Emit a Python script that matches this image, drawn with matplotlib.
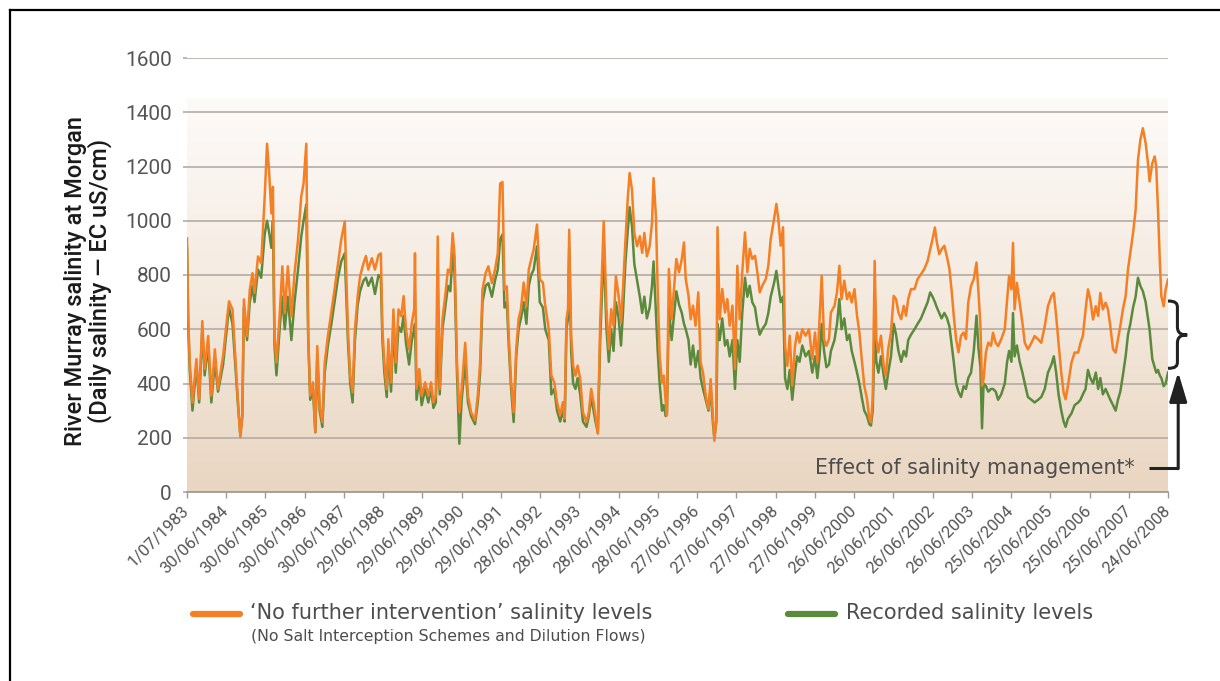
import numpy as np
import matplotlib
matplotlib.use('Agg')
import matplotlib.pyplot as plt
from matplotlib.path import Path
from matplotlib.patches import PathPatch
from matplotlib.lines import Line2D
from matplotlib.colors import LinearSegmentedColormap

plt.rcParams['font.family'] = ['Roboto', 'DejaVu Sans']

# ---- data (decimal years, EC uS/cm)
years = [
    1983.50, 1983.53, 1983.57, 1983.64, 1983.74, 1983.81, 1983.89, 1983.95, 1984.04, 1984.12,
    1984.21, 1984.29, 1984.42, 1984.50, 1984.57, 1984.66, 1984.74, 1984.80, 1984.86, 1984.91,
    1984.95, 1985.03, 1985.10, 1985.17, 1985.22, 1985.31, 1985.39, 1985.48, 1985.54, 1985.59,
    1985.65, 1985.69, 1985.73, 1985.78, 1985.86, 1985.93, 1985.99, 1986.07, 1986.16, 1986.24,
    1986.33, 1986.41, 1986.47, 1986.54, 1986.59, 1986.64, 1986.71, 1986.77, 1986.82, 1986.88,
    1986.95, 1987.01, 1987.09, 1987.18, 1987.26, 1987.35, 1987.43, 1987.52,
    1987.60, 1987.66, 1987.72, 1987.78, 1987.85, 1987.91, 1988.00, 1988.06, 1988.12, 1988.21,
    1988.29, 1988.38, 1988.44, 1988.48, 1988.53, 1988.59, 1988.63, 1988.70, 1988.76, 1988.82,
    1988.89, 1988.96, 1989.02, 1989.08, 1989.16, 1989.23, 1989.29, 1989.31, 1989.35, 1989.42,
    1989.48, 1989.57, 1989.65, 1989.72, 1989.78, 1989.84, 1989.89, 1989.94, 1990.01, 1990.08,
    1990.15, 1990.21, 1990.27, 1990.32, 1990.38, 1990.44, 1990.50, 1990.59, 1990.66, 1990.74,
    1990.84, 1990.91, 1990.97, 1991.03, 1991.11, 1991.18, 1991.27, 1991.35, 1991.42, 1991.48,
    1991.54, 1991.59, 1991.65,
    1991.70, 1991.76, 1991.825, 1991.89, 1991.95, 1992.01, 1992.08, 1992.15, 1992.21, 1992.27,
    1992.335, 1992.42, 1992.49, 1992.57, 1992.63, 1992.72, 1992.785, 1992.86, 1992.93, 1993.01,
    1993.08, 1993.125, 1993.17, 1993.21, 1993.24, 1993.29, 1993.34, 1993.40, 1993.455, 1993.52,
    1993.59, 1993.68, 1993.74, 1993.80, 1993.86, 1993.91, 1993.97, 1994.03, 1994.12, 1994.19,
    1994.25, 1994.31, 1994.37, 1994.43, 1994.50, 1994.56, 1994.61, 1994.67, 1994.73, 1994.78,
    1994.84, 1994.90, 1994.97, 1995.04, 1995.10, 1995.155, 1995.22, 1995.29, 1995.35, 1995.39,
    1995.45, 1995.495, 1995.545, 1995.605, 1995.65, 1995.70, 1995.73,
    1995.78, 1995.85, 1995.91, 1995.97, 1996.04, 1996.11, 1996.165, 1996.21, 1996.28, 1996.335,
    1996.395, 1996.46, 1996.53, 1996.59, 1996.65, 1996.72, 1996.79, 1996.845, 1996.905, 1996.94,
    1996.99, 1997.02, 1997.075, 1997.14, 1997.21, 1997.27, 1997.33, 1997.40, 1997.465, 1997.525,
    1997.585, 1997.65, 1997.72, 1997.78, 1997.84, 1997.905, 1997.975, 1998.035, 1998.095, 1998.16,
    1998.25, 1998.315, 1998.375, 1998.46, 1998.52, 1998.57, 1998.63, 1998.69, 1998.74, 1998.80,
    1998.86, 1998.925, 1998.995, 1999.05, 1999.11, 1999.18, 1999.265, 1999.35, 1999.435, 1999.505,
    1999.565, 1999.62, 1999.675, 1999.735, 1999.795, 1999.86,
    1999.91, 2000.00, 2000.065, 2000.125, 2000.18, 2000.25, 2000.32, 2000.38, 2000.44, 2000.51,
    2000.575, 2000.635, 2000.695, 2000.76, 2000.83, 2000.89, 2000.93, 2000.975, 2001.025, 2001.067,
    2001.12, 2001.185, 2001.255, 2001.31, 2001.37, 2001.44, 2001.51, 2001.57, 2001.63, 2001.70,
    2001.765, 2001.825, 2001.88, 2001.95, 2002.04, 2002.12, 2002.205, 2002.29, 2002.375, 2002.44,
    2002.50, 2002.56, 2002.61, 2002.67, 2002.73, 2002.80, 2002.87, 2002.93, 2002.99, 2003.04,
    2003.10, 2003.16, 2003.225, 2003.29, 2003.35, 2003.41, 2003.48, 2003.55, 2003.62, 2003.67,
    2003.72, 2003.76, 2003.80, 2003.86, 2003.92, 2003.99,
    2004.04, 2004.11, 2004.17, 2004.25, 2004.34, 2004.40, 2004.45, 2004.51, 2004.55, 2004.59,
    2004.65, 2004.72, 2004.79, 2004.85, 2004.93, 2005.02, 2005.10, 2005.19, 2005.27, 2005.36,
    2005.44, 2005.53, 2005.59, 2005.65, 2005.71, 2005.78, 2005.84, 2005.89, 2005.95, 2006.04,
    2006.12, 2006.21, 2006.27, 2006.33, 2006.40, 2006.46, 2006.52, 2006.59, 2006.66, 2006.72,
    2006.775, 2006.84, 2006.91, 2006.97, 2007.03, 2007.10, 2007.165, 2007.225, 2007.285, 2007.35,
    2007.42, 2007.48, 2007.54, 2007.61, 2007.675, 2007.735, 2007.795, 2007.86, 2007.93, 2007.99,
    2008.03, 2008.10, 2008.16, 2008.20, 2008.245, 2008.29, 2008.33, 2008.39, 2008.44, 2008.50,
]

# 'No further intervention' salinity (orange)
no_intervention = [
    935, 648, 477, 330, 490, 343, 630, 453, 575, 355,
    526, 380, 502, 612, 703, 673, 477, 330, 202, 282,
    710, 575, 746, 807, 734, 868, 844, 1088, 1284, 1186,
    1027, 1125, 575, 477, 648, 832, 660, 832, 648, 807,
    930, 1088, 1137, 1284, 575, 355, 404, 221, 538, 318,
    257, 477, 575, 667, 746, 844, 930, 997,
    600, 428, 367, 600, 722, 795, 844, 870, 820, 862,
    820, 874, 880, 600, 477, 380, 563, 404, 673, 477,
    673, 648, 722, 600, 526, 624, 673, 880, 380, 453,
    355, 404, 355, 404, 330, 355, 942, 380, 636, 722,
    820, 807, 954, 868, 477, 294, 380, 550, 355, 294,
    264, 355, 477, 746, 807, 832, 770, 820, 880, 1137,
    1143, 746, 758,
    576, 404, 294, 527, 637, 674, 772, 686, 820, 857,
    894, 986, 784, 772, 686, 600, 429, 404, 331, 282,
    331, 270, 637, 674, 967, 576, 466, 429, 466, 417,
    294, 258, 294, 380, 331, 282, 215, 625, 998, 674,
    527, 674, 612, 796, 723, 625, 747, 918, 1078, 1176,
    1114, 955, 906, 943, 882, 955, 869, 906, 992, 1157,
    1016, 747, 502, 404, 429, 331, 282,
    822, 637, 748, 859, 810, 859, 920, 785, 724, 637,
    687, 613, 736, 478, 441, 355, 306, 416, 269, 189,
    269, 976, 637, 748, 662, 711, 613, 687, 453, 834,
    637, 810, 957, 810, 896, 859, 871, 810, 736, 760,
    785, 834, 932, 1006, 1062, 1006, 908, 976, 539, 465,
    576, 392, 539, 588, 551, 600, 576, 600, 490, 588,
    478, 637, 797, 564, 539, 564,
    662, 686, 736, 834, 711, 779, 711, 736, 699, 748,
    650, 588, 490, 392, 342, 269, 257, 342, 852, 564,
    515, 576, 465, 429, 527, 588, 723, 711, 662, 637,
    686, 650, 711, 748, 748, 785, 803, 822, 852, 895,
    932, 975, 920, 877, 895, 908, 865, 822, 736, 650,
    564, 515, 576, 588, 564, 699, 760, 785, 846, 736,
    613, 392, 416, 515, 551, 539,
    587, 550, 538, 563, 600, 710, 796, 747, 918, 673,
    771, 698, 624, 550, 526, 550, 575, 563, 550, 612,
    685, 722, 734, 649, 550, 440, 367, 342, 391, 477,
    514, 514, 550, 575, 673, 747, 710, 636, 685, 649,
    734, 673, 698, 673, 612, 526, 514, 563, 612, 673,
    722, 820, 881, 955, 1041, 1224, 1298, 1341, 1286, 1212,
    1145, 1212, 1237, 1200, 1041, 857, 722, 685, 747, 783,
]

# recorded salinity (green)
recorded = [
    900, 620, 450, 300, 470, 330, 600, 430, 540, 330,
    480, 370, 470, 580, 680, 620, 450, 320, 210, 280,
    680, 560, 700, 760, 700, 820, 790, 950, 1000, 960,
    900, 1000, 540, 430, 600, 720, 600, 720, 560, 700,
    820, 940, 1000, 1060, 560, 340, 380, 220, 500, 300,
    240, 440, 540, 620, 700, 790, 850, 880,
    560, 400, 330, 560, 690, 740, 780, 790, 760, 790,
    730, 800, 790, 560, 440, 350, 520, 370, 620, 440,
    610, 590, 650, 550, 470, 560, 600, 620, 340, 420,
    320, 380, 330, 380, 310, 330, 600, 360, 600, 680,
    760, 740, 880, 800, 440, 178, 340, 480, 330, 280,
    250, 330, 440, 700, 760, 770, 720, 780, 820, 930,
    950, 680, 700,
    540, 380, 258, 500, 600, 640, 700, 620, 760, 800,
    820, 906, 700, 680, 600, 560, 360, 380, 300, 260,
    300, 260, 600, 640, 900, 520, 400, 380, 420, 360,
    260, 240, 280, 350, 300, 260, 220, 560, 900, 600,
    480, 600, 520, 700, 640, 540, 660, 840, 960, 1050,
    980, 840, 780, 720, 660, 720, 640, 680, 760, 850,
    660, 520, 400, 300, 320, 280, 290,
    680, 560, 650, 740, 690, 660, 620, 600, 560, 470,
    540, 460, 520, 420, 380, 340, 300, 380, 250, 200,
    260, 620, 560, 640, 540, 560, 500, 560, 380, 560,
    480, 660, 790, 720, 760, 700, 680, 620, 580, 600,
    620, 660, 720, 770, 815, 760, 700, 720, 420, 380,
    450, 340, 440, 500, 480, 540, 500, 520, 440, 500,
    420, 500, 620, 520, 460, 470,
    520, 560, 620, 711, 600, 640, 560, 580, 520, 480,
    440, 400, 350, 300, 280, 250, 245, 300, 588, 480,
    440, 500, 430, 380, 440, 500, 620, 580, 520, 480,
    520, 500, 560, 580, 600, 620, 640, 670, 700, 736,
    720, 700, 680, 660, 640, 660, 640, 610, 540, 480,
    400, 370, 350, 390, 380, 420, 440, 520, 650, 530,
    460, 235, 400, 390, 370, 380,
    380, 370, 340, 360, 400, 480, 520, 480, 660, 500,
    540, 480, 440, 400, 350, 340, 330, 340, 350, 380,
    440, 470, 500, 440, 360, 300, 260, 240, 270, 290,
    320, 330, 340, 360, 380, 450, 420, 400, 440, 380,
    420, 360, 380, 360, 340, 320, 300, 340, 370, 430,
    500, 580, 620, 680, 720, 790, 760, 740, 700, 640,
    600, 490, 460, 440, 450, 430, 420, 390, 400, 440,
]

tick_labels = [
    '1/07/1983', '30/06/1984', '30/06/1985', '30/06/1986', '30/06/1987',
    '29/06/1988', '29/06/1989', '29/06/1990', '29/06/1991', '28/06/1992',
    '28/06/1993', '28/06/1994', '28/06/1995', '27/06/1996', '27/06/1997',
    '27/06/1998', '27/06/1999', '26/06/2000', '26/06/2001', '26/06/2002',
    '26/06/2003', '25/06/2004', '25/06/2005', '25/06/2006', '25/06/2007',
    '24/06/2008',
]
tick_pos = [1983.5 + i for i in range(len(tick_labels))]
y_ticks = [0, 200, 400, 600, 800, 1000, 1200, 1400, 1600]

assert len(years) == len(no_intervention) == len(recorded)

ORANGE = '#F47F24'
GREEN = '#5B8A3C'
GRID = '#B4ACA4'
TXT = '#4D4D4D'
WIDE = ['DejaVu Sans']

W, H = 1220, 681
fig = plt.figure(figsize=(W / 100, H / 100), dpi=100)
ax = fig.add_axes([187 / W, 1 - 492 / H, 981 / W, 434 / H])

# soft vertical gradient behind the plot
bg = LinearSegmentedColormap.from_list('bg', ['#E9D6C1', '#F4EADF', '#FDFBF9'])
ax.imshow(np.linspace(0, 1, 256).reshape(-1, 1), cmap=bg, origin='lower',
          extent=[1983.5, 2008.5, 0, 1450], aspect='auto', zorder=0)

ax.plot(years, recorded, color=GREEN, lw=1.8, zorder=3)
ax.plot(years, no_intervention, color=ORANGE, lw=1.8, zorder=4)

ax.set_xlim(1983.5, 2008.5)
ax.set_ylim(0, 1600)
ax.set_yticks(y_ticks)
ax.set_xticks(tick_pos)
ax.set_xticklabels(tick_labels, rotation=45, ha='right', va='center', rotation_mode='anchor')
ax.yaxis.grid(True, color=GRID, lw=1.2)
ax.set_axisbelow(True)
for s in ['top', 'right', 'left']:
    ax.spines[s].set_visible(False)
ax.spines['bottom'].set_color('#A39B93')
ax.spines['bottom'].set_linewidth(1.3)
ax.tick_params(axis='y', length=3, color=GRID, width=1.2, pad=8, labelsize=15, labelcolor='#555555')
ax.tick_params(axis='x', length=4, color='#A39B93', width=1, pad=8, labelsize=12, labelcolor='#555555')

fig.text(88 / W, 1 - 281 / H, 'River Murray salinity at Morgan\n(Daily salinity — EC uS/cm)',
         rotation=90, ha='center', va='center', fontsize=17, weight='medium',
         color='#1A1A1A', linespacing=1.02)

# annotation: brace + arrow
brace = Path([(2008.50, 704), (2008.70, 704), (2008.74, 695), (2008.74, 680),
              (2008.74, 610),
              (2008.74, 590), (2008.80, 579), (2008.99, 579),
              (2008.80, 579), (2008.74, 568), (2008.74, 548),
              (2008.74, 480),
              (2008.74, 465), (2008.70, 456), (2008.50, 456)],
             [Path.MOVETO, Path.CURVE4, Path.CURVE4, Path.CURVE4,
              Path.LINETO,
              Path.CURVE4, Path.CURVE4, Path.CURVE4,
              Path.CURVE4, Path.CURVE4, Path.CURVE4,
              Path.LINETO,
              Path.CURVE4, Path.CURVE4, Path.CURVE4])
ax.add_patch(PathPatch(brace, fill=False, lw=2.2, color='#222222', clip_on=False, zorder=5))
ax.plot([2008.02, 2008.76], [87, 87], color='#222222', lw=2.2, clip_on=False, zorder=5,
        solid_capstyle='butt')
ax.annotate('', xy=(2008.76, 442), xytext=(2008.76, 86),
            arrowprops=dict(arrowstyle='-|>,head_length=0.9,head_width=0.27',
                            color='#222222', lw=2.2, mutation_scale=20, shrinkA=0, shrinkB=0),
            annotation_clip=False, zorder=5)
ax.text(2007.66, 88, 'Effect of salinity management*', ha='right', va='center',
        fontsize=14.8, color=TXT, zorder=5, family=WIDE)

# legend
fig.add_artist(Line2D([193 / W, 240 / W], [1 - 614 / H] * 2, color=ORANGE, lw=4.5,
                      solid_capstyle='round'))
fig.add_artist(Line2D([788 / W, 835 / W], [1 - 614 / H] * 2, color=GREEN, lw=4.5,
                      solid_capstyle='round'))
fig.text(250 / W, 1 - 613 / H, '\u2018No further intervention\u2019 salinity levels',
         ha='left', va='center', fontsize=15, color=TXT, family=WIDE)
fig.text(251 / W, 1 - 637 / H, '(No Salt Interception Schemes and Dilution Flows)',
         ha='left', va='center', fontsize=11.3, color=TXT, family=WIDE)
fig.text(846 / W, 1 - 613 / H, 'Recorded salinity levels',
         ha='left', va='center', fontsize=15, color=TXT, family=WIDE)

# black frame (cropped at right and bottom)
fig.add_artist(Line2D([10 / W, 10 / W], [0, 1 - 10 / H], color='black', lw=1.6))
fig.add_artist(Line2D([10 / W, 1], [1 - 10 / H, 1 - 10 / H], color='black', lw=1.6))

fig.savefig('out.png', dpi=100)
